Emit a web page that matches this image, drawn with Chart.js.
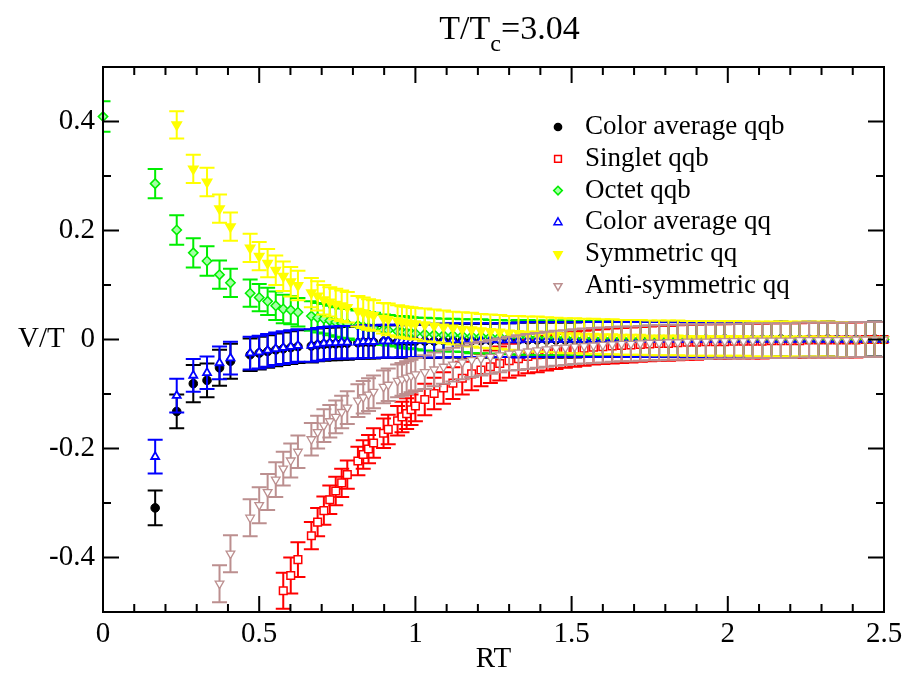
<!DOCTYPE html>
<html>
<head>
<meta charset="utf-8">
<script src="https://cdn.jsdelivr.net/npm/chart.js@4.4.0/dist/chart.umd.min.js"></script>
<style>
  html, body { margin: 0; padding: 0; background: #fff; }
  #wrap { width: 918px; height: 677px; }
</style>
</head>
<body>
<div id="wrap"><canvas id="potChart" width="918" height="677"></canvas></div>
<script>
// lattice separations R*T (first 32 = sqrt(n)/6 lattice points)
const rt = [
  0, 0.167, 0.236, 0.289, 0.333, 0.373, 0.408, 0.471,
  0.5, 0.527, 0.553, 0.577, 0.601, 0.624, 0.667, 0.687,
  0.707, 0.726, 0.745, 0.764, 0.782, 0.816, 0.833, 0.85,
  0.866, 0.898, 0.913, 0.943, 0.957, 0.972, 0.986, 1.0,
  1.03, 1.06, 1.09, 1.12, 1.15, 1.18, 1.21, 1.24, 1.27, 1.3,
  1.33, 1.36, 1.39, 1.42, 1.45, 1.48, 1.51, 1.54, 1.57, 1.6,
  1.63, 1.66, 1.69, 1.72, 1.75, 1.78, 1.81, 1.84, 1.87, 1.9,
  1.93, 1.96, 1.99, 2.02, 2.05, 2.08, 2.11, 2.14, 2.17, 2.2,
  2.23, 2.26, 2.29, 2.32, 2.35, 2.38, 2.41, 2.44, 2.47, 2.5
];

const avgQQb = [
  null, -0.309, -0.132, -0.081, -0.075, -0.052, -0.040, -0.028,
  -0.025, -0.022, -0.019, -0.017, -0.015, -0.013, -0.012, -0.010,
  -0.009, -0.008, -0.008, -0.007, -0.007, -0.006, -0.005, -0.005,
  -0.005, -0.004, -0.004, -0.004, -0.003, -0.003, -0.003, -0.003,
  -0.003, -0.003, -0.002, -0.002, -0.002, -0.002, -0.002, -0.002, -0.001, -0.001,
  -0.001, -0.001, -0.001, -0.001, -0.001, -0.001, -0.001, 0, 0, 0,
  0, 0, 0, 0.001, 0, 0, 0, 0, 0, 0,
  0, 0, 0.001, 0, 0, 0, 0, 0, 0.001, 0,
  0, 0, 0, 0.001, 0, 0, 0, 0, 0.001, 0
];
const avgQQbErr = [
  null, 0.032, 0.031, 0.034, 0.031, 0.033, 0.032, 0.030,
  0.030, 0.030, 0.030, 0.030, 0.030, 0.030, 0.030, 0.030,
  0.030, 0.030, 0.030, 0.030, 0.030, 0.030, 0.030, 0.030,
  0.030, 0.030, 0.030, 0.030, 0.030, 0.030, 0.030, 0.030,
  0.031, 0.031, 0.031, 0.031, 0.031, 0.031, 0.031, 0.031, 0.031, 0.031,
  0.032, 0.032, 0.032, 0.032, 0.032, 0.032, 0.032, 0.032, 0.032, 0.032,
  0.032, 0.032, 0.032, 0.032, 0.032, 0.032, 0.032, 0.032, 0.032, 0.032,
  0.032, 0.032, 0.032, 0.032, 0.032, 0.032, 0.032, 0.032, 0.032, 0.032,
  0.032, 0.032, 0.032, 0.032, 0.032, 0.032, 0.032, 0.032, 0.032, 0.032
];

const singletQQb = [
  null, null, null, null, null, null, null, null,
  null, null, null, -0.461, -0.433, -0.404, -0.360, -0.335,
  -0.314, -0.294, -0.278, -0.263, -0.248, -0.223, -0.211, -0.201,
  -0.190, -0.172, -0.165, -0.149, -0.142, -0.136, -0.129, -0.122,
  -0.110, -0.099, -0.089, -0.080, -0.071, -0.063, -0.056, -0.050, -0.044, -0.039,
  -0.035, -0.031, -0.028, -0.025, -0.022, -0.020, -0.018, -0.016, -0.014, -0.013,
  -0.012, -0.011, -0.010, -0.009, -0.008, -0.007, -0.007, -0.006, -0.005, -0.005,
  -0.004, -0.004, -0.004, -0.003, -0.003, -0.003, -0.003, -0.002, -0.002, -0.002,
  -0.002, -0.001, -0.001, -0.001, -0.001, -0.001, -0.001, 0, 0, 0
];
const singletQQbErr = [
  null, null, null, null, null, null, null, null,
  null, null, null, 0.033, 0.033, 0.032, 0.025, 0.026,
  0.026, 0.026, 0.026, 0.026, 0.026, 0.026, 0.026, 0.026,
  0.027, 0.027, 0.027, 0.027, 0.028, 0.028, 0.028, 0.028,
  0.029, 0.029, 0.029, 0.029, 0.030, 0.030, 0.030, 0.030, 0.031, 0.031,
  0.031, 0.031, 0.032, 0.032, 0.032, 0.032, 0.032, 0.032, 0.032, 0.032,
  0.032, 0.032, 0.032, 0.032, 0.032, 0.032, 0.032, 0.032, 0.032, 0.032,
  0.032, 0.032, 0.032, 0.032, 0.032, 0.032, 0.032, 0.032, 0.032, 0.032,
  0.032, 0.032, 0.032, 0.032, 0.032, 0.032, 0.032, 0.032, 0.032, 0.032
];

const octetQQb = [
  0.409, 0.286, 0.201, 0.159, 0.144, 0.119, 0.104, 0.085,
  0.077, 0.070, 0.062, 0.056, 0.054, 0.050, 0.043, 0.040,
  0.038, 0.035, 0.032, 0.030, 0.029, 0.026, 0.024, 0.022,
  0.021, 0.018, 0.017, 0.015, 0.014, 0.013, 0.012, 0.011,
  0.010, 0.009, 0.008, 0.008, 0.007, 0.006, 0.006, 0.005, 0.005, 0.004,
  0.004, 0.004, 0.003, 0.003, 0.003, 0.003, 0.002, 0.002, 0.002, 0.002,
  0.002, 0.002, 0.001, 0.001, 0.001, 0.001, 0.001, 0.001, 0.001, 0.001,
  0.001, 0.001, 0.001, 0, 0, 0, 0, 0, 0, 0,
  0, 0, 0, 0, 0, 0, 0, 0, 0, 0
];
const octetQQbErr = [
  0.028, 0.027, 0.027, 0.027, 0.027, 0.026, 0.026, 0.025,
  0.025, 0.025, 0.026, 0.026, 0.026, 0.026, 0.027, 0.027,
  0.027, 0.027, 0.027, 0.027, 0.027, 0.027, 0.028, 0.028,
  0.028, 0.028, 0.028, 0.028, 0.029, 0.029, 0.029, 0.029,
  0.030, 0.030, 0.030, 0.030, 0.030, 0.031, 0.031, 0.031, 0.031, 0.031,
  0.032, 0.032, 0.032, 0.032, 0.032, 0.032, 0.032, 0.032, 0.032, 0.032,
  0.032, 0.032, 0.032, 0.032, 0.032, 0.032, 0.032, 0.032, 0.032, 0.032,
  0.032, 0.032, 0.032, 0.032, 0.032, 0.032, 0.032, 0.032, 0.032, 0.032,
  0.032, 0.032, 0.032, 0.032, 0.032, 0.032, 0.032, 0.032, 0.032, 0.032
];

const avgQQ = [
  null, -0.215, -0.103, -0.066, -0.061, -0.043, -0.034, -0.025,
  -0.023, -0.020, -0.017, -0.015, -0.013, -0.011, -0.011, -0.009,
  -0.007, -0.006, -0.006, -0.005, -0.005, -0.005, -0.004, -0.004,
  -0.004, -0.003, -0.003, -0.003, -0.002, -0.002, -0.002, -0.002,
  -0.002, -0.002, -0.002, -0.001, -0.001, -0.001, -0.001, -0.001, -0.001, -0.001,
  -0.001, 0, 0, 0, 0, 0, 0, 0, 0, 0,
  0.001, 0, 0, 0, 0, 0, 0.001, 0, 0, 0,
  0, 0, 0, 0, 0.001, 0, 0, 0, 0, 0,
  0, 0.001, 0, 0, 0, 0, 0, 0, 0, 0
];
const avgQQErr = [
  null, 0.031, 0.031, 0.030, 0.030, 0.030, 0.030, 0.030,
  0.030, 0.030, 0.030, 0.030, 0.030, 0.030, 0.030, 0.030,
  0.030, 0.030, 0.030, 0.030, 0.030, 0.030, 0.030, 0.030,
  0.030, 0.030, 0.030, 0.030, 0.030, 0.030, 0.030, 0.030,
  0.031, 0.031, 0.031, 0.031, 0.031, 0.031, 0.031, 0.031, 0.031, 0.031,
  0.032, 0.032, 0.032, 0.032, 0.032, 0.032, 0.032, 0.032, 0.032, 0.032,
  0.032, 0.032, 0.032, 0.032, 0.032, 0.032, 0.032, 0.032, 0.032, 0.032,
  0.032, 0.032, 0.032, 0.032, 0.032, 0.032, 0.032, 0.032, 0.032, 0.032,
  0.032, 0.032, 0.032, 0.032, 0.032, 0.032, 0.032, 0.032, 0.032, 0.032
];

const symQQ = [
  null, null, 0.394, 0.313, 0.289, 0.240, 0.207, 0.168,
  0.153, 0.140, 0.127, 0.116, 0.106, 0.099, 0.086, 0.080,
  0.073, 0.069, 0.065, 0.062, 0.059, 0.052, 0.049, 0.046,
  0.044, 0.039, 0.037, 0.034, 0.032, 0.031, 0.030, 0.029,
  0.027, 0.025, 0.023, 0.021, 0.019, 0.018, 0.016, 0.015, 0.014, 0.012,
  0.011, 0.010, 0.010, 0.009, 0.008, 0.007, 0.007, 0.006, 0.006, 0.005,
  0.005, 0.004, 0.004, 0.004, 0.003, 0.003, 0.003, 0.003, 0.002, 0.002,
  0.002, 0.002, 0.002, 0.002, 0.002, 0.001, 0.001, 0.001, 0.001, 0.001,
  0.001, 0.001, 0.001, 0.001, 0, 0, 0, 0, 0, 0
];
const symQQErr = [
  null, null, 0.025, 0.026, 0.026, 0.026, 0.026, 0.026,
  0.026, 0.026, 0.027, 0.027, 0.027, 0.027, 0.027, 0.027,
  0.027, 0.027, 0.028, 0.028, 0.028, 0.028, 0.028, 0.028,
  0.028, 0.028, 0.029, 0.029, 0.029, 0.029, 0.029, 0.029,
  0.030, 0.030, 0.030, 0.030, 0.031, 0.031, 0.031, 0.031, 0.031, 0.031,
  0.032, 0.032, 0.032, 0.032, 0.032, 0.032, 0.032, 0.032, 0.032, 0.032,
  0.032, 0.032, 0.032, 0.032, 0.032, 0.032, 0.032, 0.032, 0.032, 0.032,
  0.032, 0.032, 0.032, 0.032, 0.032, 0.032, 0.032, 0.032, 0.032, 0.032,
  0.032, 0.032, 0.032, 0.032, 0.032, 0.032, 0.032, 0.032, 0.032, 0.032
];

const antiSymQQ = [
  null, null, null, null, null, -0.448, -0.393, -0.327,
  -0.304, -0.280, -0.257, -0.237, -0.222, -0.206, -0.183, -0.170,
  -0.158, -0.150, -0.142, -0.133, -0.125, -0.112, -0.106, -0.101,
  -0.096, -0.087, -0.083, -0.076, -0.073, -0.070, -0.067, -0.064,
  -0.060, -0.055, -0.050, -0.046, -0.042, -0.038, -0.035, -0.032, -0.029, -0.026,
  -0.024, -0.022, -0.020, -0.018, -0.016, -0.015, -0.013, -0.012, -0.011, -0.010,
  -0.009, -0.008, -0.008, -0.007, -0.006, -0.006, -0.005, -0.005, -0.004, -0.004,
  -0.004, -0.003, -0.003, -0.003, -0.003, -0.002, -0.002, -0.002, -0.002, -0.002,
  -0.001, -0.001, -0.001, -0.001, -0.001, -0.001, 0, 0, 0, 0
];
const antiSymQQErr = [
  null, null, null, null, null, 0.034, 0.034, 0.034,
  0.033, 0.033, 0.032, 0.031, 0.031, 0.030, 0.030, 0.030,
  0.030, 0.030, 0.030, 0.030, 0.030, 0.030, 0.030, 0.030,
  0.030, 0.030, 0.030, 0.030, 0.030, 0.030, 0.030, 0.030,
  0.031, 0.031, 0.031, 0.031, 0.031, 0.031, 0.031, 0.031, 0.031, 0.031,
  0.032, 0.032, 0.032, 0.032, 0.032, 0.032, 0.032, 0.032, 0.032, 0.032,
  0.032, 0.032, 0.032, 0.032, 0.032, 0.032, 0.032, 0.032, 0.032, 0.032,
  0.032, 0.032, 0.032, 0.032, 0.032, 0.032, 0.032, 0.032, 0.032, 0.032,
  0.032, 0.032, 0.032, 0.032, 0.032, 0.032, 0.032, 0.032, 0.032, 0.032
];

const xTicks = [0, 0.5, 1, 1.5, 2, 2.5];
const yTicks = [-0.4, -0.2, 0, 0.2, 0.4];

const SERIF = "'Liberation Serif', 'DejaVu Serif', serif";

function points(vals, errs) {
  return rt
    .map((x, i) => ({ x: x, y: vals[i], e: errs[i] }))
    .filter((p) => p.y !== null);
}

const series = [
  { label: "Color average qqb", vals: avgQQb, errs: avgQQbErr, color: "#000000", fill: "#000000",
    style: "circle", rot: 0, r: 4.3, lr: 3.6, bw: 1 },
  { label: "Singlet qqb", vals: singletQQb, errs: singletQQbErr, color: "#ff0000", fill: "#ffffff",
    style: "rect", rot: 0, r: 5.4, lr: 4.8, bw: 1.5 },
  { label: "Octet qqb", vals: octetQQb, errs: octetQQbErr, color: "#00ee00", fill: "#a6ffa6",
    style: "rectRot", rot: 0, r: 4.7, lr: 4.3, bw: 1.5 },
  { label: "Color average qq", vals: avgQQ, errs: avgQQErr, color: "#0000ff", fill: "#ffffff",
    style: "triangle", rot: 0, r: 4.6, lr: 4.6, bw: 1.8 },
  { label: "Symmetric qq", vals: symQQ, errs: symQQErr, color: "#ffff00", fill: "#ffff00",
    style: "triangle", rot: 180, r: 5.4, lr: 4.8, bw: 1.5 },
  { label: "Anti-symmetric qq", vals: antiSymQQ, errs: antiSymQQErr, color: "#bc8f8f", fill: "#ffffff",
    style: "triangle", rot: 180, r: 5.0, lr: 4.6, bw: 1.3 }
];

// error bars drawn right before each dataset's markers
const errorBars = {
  id: "errorBars",
  beforeDatasetDraw(chart, args) {
    const ds = chart.data.datasets[args.index];
    const { ctx, chartArea: a, scales } = chart;
    ctx.save();
    ctx.beginPath();
    ctx.rect(a.left, a.top, a.right - a.left, a.bottom - a.top);
    ctx.clip();
    ctx.strokeStyle = ds.borderColor;
    ctx.lineWidth = 2;
    ds.data.forEach((p) => {
      const x = scales.x.getPixelForValue(p.x);
      const top = scales.y.getPixelForValue(p.y + p.e);
      const bot = scales.y.getPixelForValue(p.y - p.e);
      ctx.beginPath();
      ctx.moveTo(x, top);
      ctx.lineTo(x, bot);
      ctx.moveTo(x - 7.5, top);
      ctx.lineTo(x + 7.5, top);
      ctx.moveTo(x - 7.5, bot);
      ctx.lineTo(x + 7.5, bot);
      ctx.stroke();
    });
    ctx.restore();
  }
};

// frame, inward ticks, title, y label and legend
const decorations = {
  id: "decorations",
  afterDraw(chart) {
    const { ctx, chartArea: a, scales } = chart;
    const sx = scales.x, sy = scales.y;
    ctx.save();
    ctx.strokeStyle = "#000";
    ctx.lineWidth = 2;
    ctx.strokeRect(a.left, a.top, a.right - a.left, a.bottom - a.top);

    ctx.beginPath();
    for (let i = 0; i <= 25; i++) {
      const px = sx.getPixelForValue(i / 10);
      const len = i % 5 === 0 ? 16 : 8;
      ctx.moveTo(px, a.bottom); ctx.lineTo(px, a.bottom - len);
      ctx.moveTo(px, a.top); ctx.lineTo(px, a.top + len);
    }
    for (let i = -5; i <= 5; i++) {
      const py = sy.getPixelForValue(i / 10);
      const len = i % 2 === 0 ? 16 : 8;
      ctx.moveTo(a.left, py); ctx.lineTo(a.left + len, py);
      ctx.moveTo(a.right, py); ctx.lineTo(a.right - len, py);
    }
    ctx.stroke();

    // title T/Tc=3.04
    ctx.fillStyle = "#000";
    ctx.textBaseline = "alphabetic";
    ctx.textAlign = "left";
    const big = "34px " + SERIF, small = "24px " + SERIF;
    ctx.font = big;
    const w1 = ctx.measureText("T/T").width;
    const w3 = ctx.measureText("=3.04").width;
    ctx.font = small;
    const w2 = ctx.measureText("c").width;
    let tx = (a.left + a.right) / 2 - (w1 + w2 + w3) / 2 + 16;
    ctx.font = big;
    ctx.fillText("T/T", tx, 39);
    ctx.font = small;
    ctx.fillText("c", tx + w1, 51);
    ctx.font = big;
    ctx.fillText("=3.04", tx + w1 + w2, 39);

    // y label next to the zero tick
    ctx.font = "29px " + SERIF;
    ctx.textBaseline = "middle";
    ctx.fillText("V/T", 18, sy.getPixelForValue(0));

    // legend
    const lx = 558, ly = 127, step = 31.8;
    chart.data.datasets.forEach((ds, i) => {
      const y = ly + i * step;
      ctx.fillStyle = ds.backgroundColor;
      ctx.strokeStyle = ds.borderColor;
      ctx.lineWidth = 1.5;
      Chart.helpers.drawPoint(ctx, {
        pointStyle: ds.pointStyle, rotation: ds.rotation,
        radius: series[i].lr, borderWidth: 1.5
      }, lx, y);
      ctx.fillStyle = "#000";
      ctx.font = "27px " + SERIF;
      ctx.textBaseline = "middle";
      ctx.fillText(ds.label, 585, y);
    });
    ctx.restore();
  }
};

const ctx = document.getElementById("potChart");
const potChart = new Chart(ctx, {
  type: "scatter",
  data: {
    datasets: series.map((s, i) => ({
      label: s.label,
      data: points(s.vals, s.errs),
      borderColor: s.color,
      backgroundColor: s.fill,
      pointStyle: s.style,
      rotation: s.rot,
      pointRadius: s.r,
      pointHoverRadius: s.r,
      pointBorderWidth: s.bw,
      showLine: false,
      clip: false,
      order: series.length - i
    }))
  },
  options: {
    responsive: false,
    animation: false,
    devicePixelRatio: 1,
    layout: { padding: { top: 67, right: 34, left: 0, bottom: 0 } },
    plugins: {
      legend: { display: false },
      tooltip: { enabled: false },
      title: { display: false }
    },
    scales: {
      x: {
        type: "linear",
        min: 0,
        max: 2.5,
        afterBuildTicks: (s) => { s.ticks = xTicks.map((v) => ({ value: v })); },
        afterFit: (s) => { s.height = 65; },
        grid: { display: false, drawTicks: false },
        border: { display: false },
        ticks: {
          color: "#000",
          padding: 5,
          maxRotation: 0,
          font: { family: SERIF, size: 29 },
          callback: (v) => String(v)
        },
        title: {
          display: true,
          text: "RT",
          color: "#000",
          padding: { top: 0, bottom: 0 },
          font: { family: SERIF, size: 29 }
        }
      },
      y: {
        type: "linear",
        min: -0.5,
        max: 0.5,
        afterBuildTicks: (s) => { s.ticks = yTicks.map((v) => ({ value: v })); },
        afterFit: (s) => { s.width = 103; },
        grid: { display: false, drawTicks: false },
        border: { display: false },
        ticks: {
          color: "#000",
          padding: 8,
          font: { family: SERIF, size: 29 },
          callback: (v) => String(v)
        }
      }
    }
  },
  plugins: [errorBars, decorations]
});
</script>
</body>
</html>
